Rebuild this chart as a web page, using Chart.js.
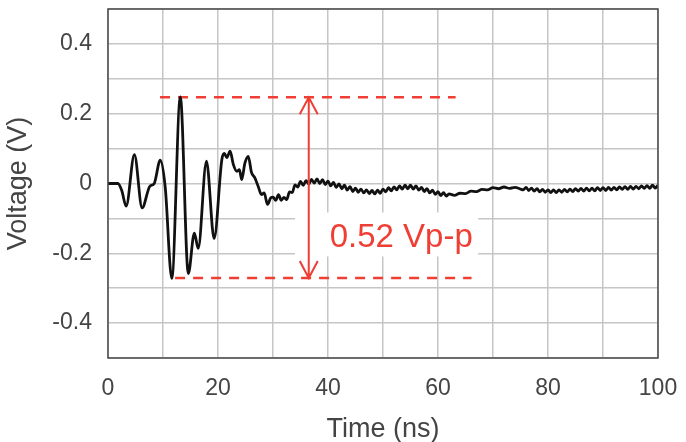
<!DOCTYPE html>
<html>
<head>
<meta charset="utf-8">
<script src="https://cdn.jsdelivr.net/npm/chart.js@4.4.1/dist/chart.umd.min.js"></script>
<style>
  html, body { margin: 0; padding: 0; background: #fff; }
  #wrap { width: 686px; height: 442px; }
</style>
</head>
<body>
<div id="wrap"><canvas id="scope"></canvas></div>
<script>
// Ringing waveform: time (ns) / voltage (V).
const timeNs = [
  0, 1.8, 2.5, 3.3, 4.8, 6.2, 7.6, 8.4, 9.5, 10.4, 11.6, 13.15, 14.6, 15.7, 16.4, 17.9, 19.3,
  20.7, 21.15, 21.6, 22.2, 22.8, 23.4, 23.9, 24.3, 24.9, 25.5, 26.1, 26.7, 27.3, 27.9, 28.4, 29.0, 29.6,
  30.0, 30.5, 31.0, 31.5, 32.0, 32.5, 33.0, 33.5, 34.0, 34.5, 35.0, 35.5, 36.0, 36.5, 37.0, 37.5,
  38.0, 38.5, 39.0, 39.5, 40.0, 40.5, 41.0, 41.5, 42.0, 42.5, 43.0, 43.5, 44.0, 44.5, 45.0, 45.5,
  46.0, 46.5, 47.0, 47.5, 48.0, 48.5, 49.0, 49.5, 50.0, 50.5, 51.0, 51.5, 52.0, 52.5, 53.0, 53.5,
  54.0, 54.5, 55.0, 55.5, 56.0, 56.5, 57.0, 57.5, 58.0, 58.5, 59.0, 59.5, 60.0, 60.5, 61.0, 61.5, 62.0,
  63, 64, 65, 66, 67, 68, 69, 70, 71, 72, 73, 74, 75,
  75.5, 76.0, 76.5, 77.0, 77.5, 78.0, 78.5, 79.0, 79.5, 80.0, 80.5, 81.0, 81.5, 82.0, 82.5, 83.0,
  83.5, 84.0, 84.5, 85.0, 85.5, 86.0, 86.5, 87.0, 87.5, 88.0, 88.5, 89.0, 89.5, 90.0, 90.5, 91.0,
  91.5, 92.0, 92.5, 93.0, 93.5, 94.0, 94.5, 95.0, 95.5, 96.0, 96.5, 97.0, 97.5, 98.0, 98.5, 99.0,
  99.5, 100.0
];
const voltage = [
  0, 0, -0.02, -0.065, 0.083, -0.07, -0.008, 0.0, 0.067, -0.01, -0.272, 0.248, -0.258, -0.142, -0.186, 0.064, -0.158,
  0.069, 0.086, 0.074, 0.093, 0.054, 0.035, 0.04, 0.011, 0.059, 0.078, 0.031, 0.016, -0.008, -0.032, -0.027, -0.06, -0.041,
  -0.039, -0.048, -0.032, -0.048, -0.040, -0.046, -0.024, -0.026, -0.004, -0.010, 0.006, -0.005, 0.008, -0.002, 0.012, 0.001,
  0.013, 0.000, 0.011, -0.003, 0.007, -0.007, 0.003, -0.011, -0.001, -0.015, -0.005, -0.019, -0.009, -0.023, -0.013, -0.025,
  -0.016, -0.027, -0.018, -0.029, -0.020, -0.030, -0.019, -0.028, -0.016, -0.024, -0.012, -0.021, -0.010, -0.018, -0.007, -0.016,
  -0.005, -0.015, -0.005, -0.016, -0.007, -0.019, -0.011, -0.023, -0.015, -0.027, -0.019, -0.031, -0.023, -0.035, -0.026, -0.036, -0.030,
  -0.034, -0.028, -0.029, -0.022, -0.023, -0.017, -0.018, -0.012, -0.015, -0.010, -0.014, -0.011, -0.016,
  -0.018, -0.011, -0.020, -0.013, -0.022, -0.015, -0.024, -0.017, -0.025, -0.018, -0.026, -0.018, -0.026, -0.018, -0.025, -0.017,
  -0.024, -0.016, -0.023, -0.015, -0.022, -0.014, -0.022, -0.013, -0.021, -0.013, -0.021, -0.012, -0.020, -0.012, -0.020, -0.011,
  -0.019, -0.011, -0.018, -0.010, -0.017, -0.009, -0.017, -0.008, -0.016, -0.008, -0.015, -0.007, -0.014, -0.006, -0.014, -0.005,
  -0.013, -0.005
];

// Peak-to-peak markers (data units).
const ppTop = { v: 0.247, from: 9.45, to: 63.2 };
const ppBottom = { v: -0.271, from: 12.2, to: 66.1 };
const ppArrowT = 36.5;
const ppLabel = { text: '0.52 Vp-p', t: 40.3, v: -0.181 };
const ppLabelBox = { t0: 34.0, t1: 67.3, v0: -0.083, v1: -0.209 };

const RED = '#ef3e33';
const INK = '#444444';

// white patch behind the label, arrow + text on top, frame round the plot
const ppAnnotation = {
  id: 'ppAnnotation',
  beforeDatasetsDraw(chart) {
    const { ctx, scales: { x, y } } = chart;
    const x0 = x.getPixelForValue(ppLabelBox.t0), x1 = x.getPixelForValue(ppLabelBox.t1);
    const y0 = y.getPixelForValue(ppLabelBox.v0), y1 = y.getPixelForValue(ppLabelBox.v1);
    ctx.save();
    ctx.fillStyle = '#ffffff';
    ctx.fillRect(x0, y0, x1 - x0, y1 - y0);
    ctx.restore();
  },
  afterDatasetsDraw(chart) {
    const { ctx, chartArea: a, scales: { x, y } } = chart;
    const ax = x.getPixelForValue(ppArrowT);
    const yt = y.getPixelForValue(ppTop.v);
    const yb = y.getPixelForValue(ppBottom.v);
    ctx.save();
    ctx.strokeStyle = RED;
    ctx.lineWidth = 2;
    ctx.beginPath();
    ctx.moveTo(ax, yt);
    ctx.lineTo(ax, yb);
    ctx.moveTo(ax - 9, yt + 17);
    ctx.lineTo(ax, yt);
    ctx.lineTo(ax + 9, yt + 17);
    ctx.moveTo(ax - 9, yb - 17);
    ctx.lineTo(ax, yb);
    ctx.lineTo(ax + 9, yb - 17);
    ctx.stroke();

    ctx.fillStyle = RED;
    ctx.font = '33px "Liberation Sans", Arial, sans-serif';
    ctx.textBaseline = 'alphabetic';
    ctx.textAlign = 'left';
    ctx.fillText(ppLabel.text, x.getPixelForValue(ppLabel.t), y.getPixelForValue(ppLabel.v));

    ctx.strokeStyle = '#4a4a4a';
    ctx.lineWidth = 1.5;
    ctx.strokeRect(a.left, a.top, a.right - a.left, a.bottom - a.top);
    ctx.restore();
  }
};

new Chart(document.getElementById('scope'), {
  type: 'line',
  data: {
    datasets: [
      {
        data: timeNs.map((t, i) => ({ x: t, y: voltage[i] })),
        borderColor: '#111111',
        borderWidth: 2.8,
        pointRadius: 0,
        cubicInterpolationMode: 'monotone'
      },
      {
        data: [{ x: ppTop.from, y: ppTop.v }, { x: ppTop.to, y: ppTop.v }],
        borderColor: RED,
        borderWidth: 2.5,
        borderDash: [10, 8],
        pointRadius: 0
      },
      {
        data: [{ x: ppBottom.from, y: ppBottom.v }, { x: ppBottom.to, y: ppBottom.v }],
        borderColor: RED,
        borderWidth: 2.5,
        borderDash: [10, 8],
        pointRadius: 0
      }
    ]
  },
  options: {
    responsive: true,
    maintainAspectRatio: false,
    animation: false,
    layout: { padding: { top: 9, right: 28, left: 0, bottom: 0 } },
    plugins: { legend: { display: false }, tooltip: { enabled: false } },
    scales: {
      x: {
        type: 'linear',
        min: 0,
        max: 100,
        afterFit: (s) => { s.height = 84; s.paddingLeft = 0; s.paddingRight = 0; },
        grid: { color: '#c6c6c6', lineWidth: 1.5, drawTicks: false },
        border: { display: false },
        ticks: {
          stepSize: 10,
          autoSkip: false,
          maxRotation: 0,
          padding: 17,
          color: INK,
          font: { family: '"Liberation Sans", Arial, sans-serif', size: 23 },
          callback: (v) => (Math.round(v) % 20 === 0 ? String(Math.round(v)) : '')
        },
        title: {
          display: true,
          text: 'Time (ns)',
          color: INK,
          padding: { top: 0, bottom: 0 },
          font: { family: '"Liberation Sans", Arial, sans-serif', size: 27, lineHeight: 0.9 }
        }
      },
      y: {
        type: 'linear',
        min: -0.5,
        max: 0.5,
        afterFit: (s) => { s.width = 108; s.paddingTop = 0; s.paddingBottom = 0; },
        grid: { color: '#c6c6c6', lineWidth: 1.5, drawTicks: false },
        border: { display: false },
        ticks: {
          stepSize: 0.1,
          autoSkip: false,
          padding: 16,
          color: INK,
          font: { family: '"Liberation Sans", Arial, sans-serif', size: 23 },
          callback: (v) => {
            const r = Math.round(v * 10);
            if (r % 2 !== 0 || Math.abs(r) === 5) return '';
            return String(r / 10);
          }
        },
        title: {
          display: true,
          text: 'Voltage (V)',
          color: INK,
          padding: { top: 2, bottom: 0 },
          font: { family: '"Liberation Sans", Arial, sans-serif', size: 27, lineHeight: 1.2 }
        }
      }
    }
  },
  plugins: [ppAnnotation]
});
</script>
</body>
</html>
